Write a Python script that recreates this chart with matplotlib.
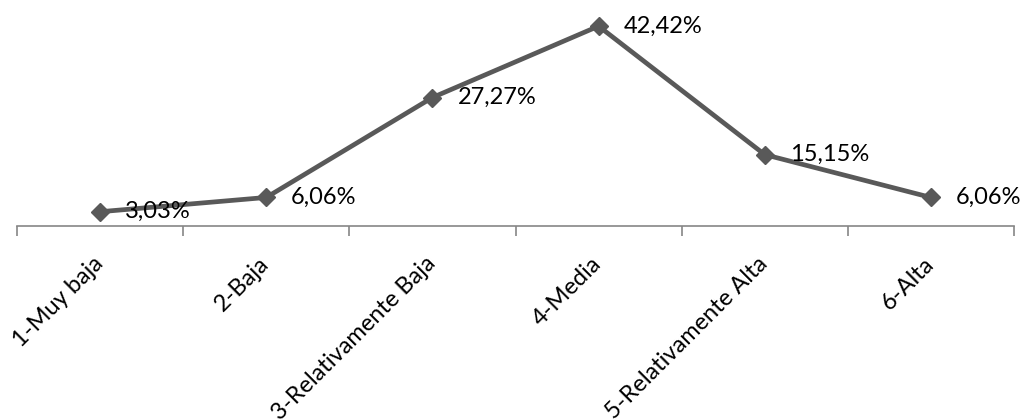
import matplotlib
matplotlib.use("Agg")
import matplotlib.pyplot as plt
import matplotlib.transforms as mtransforms
import numpy as np

categories = ["1-Muy baja", "2-Baja", "3-Relativamente Baja", "4-Media",
              "5-Relativamente Alta", "6-Alta"]
values = [3.03, 6.06, 27.27, 42.42, 15.15, 6.06]
labels = ["3,03%", "6,06%", "27,27%", "42,42%", "15,15%", "6,06%"]

plt.rcParams['font.family'] = ['Lato', 'DejaVu Sans']

fig = plt.figure(figsize=(10.26, 4.20), dpi=100)
ax = fig.add_axes([17/1026, 194/420, (1014-17)/1026, (226-14)/420])

x = np.arange(len(categories))
line_color = "#595959"
ax.plot(x, values, color=line_color, lw=3.4, marker="D", markersize=9.5,
        markerfacecolor=line_color, markeredgecolor=line_color, zorder=3)

for xi, v, lab in zip(x, values, labels):
    ax.annotate(lab, (xi, v), xytext=(18, 0), textcoords="offset points",
                ha="left", va="center", fontsize=17, color="black", zorder=4)

ax.set_xlim(-0.5, len(categories) - 0.5)
ax.set_ylim(0, 45)

for s in ["left", "right", "top"]:
    ax.spines[s].set_visible(False)
ax.spines["bottom"].set_color("#868686")
ax.spines["bottom"].set_linewidth(1.2)

ax.set_yticks([])
ax.set_xticks(x)
ax.set_xticklabels(categories, rotation=45, ha="right", va="top",
                   rotation_mode="anchor", fontsize=17)
ax.tick_params(axis="x", which="major", length=0, pad=18)
ax.set_xticks(np.arange(-0.5, len(categories)), minor=True)
ax.tick_params(axis="x", which="minor", length=7, width=1.2, color="#868686",
               direction="out")

offset = mtransforms.ScaledTranslation(-8/100, -2/100, fig.dpi_scale_trans)
for t in ax.get_xticklabels():
    t.set_transform(t.get_transform() + offset)

fig.savefig("out.png", dpi=100)
